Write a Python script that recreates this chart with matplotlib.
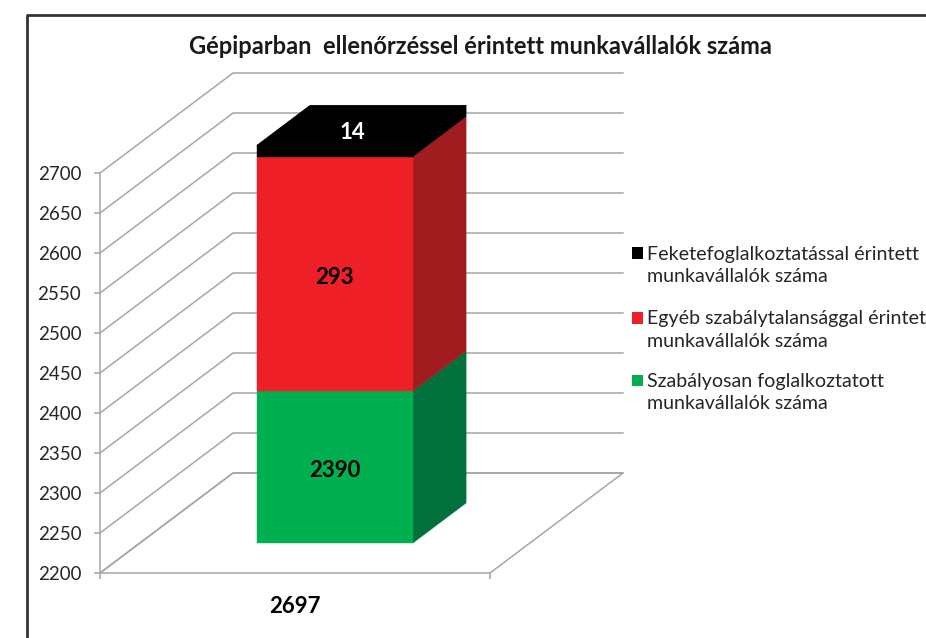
#!/usr/bin/env python3
"""Stacked oblique-3D column: workers affected by inspections in machine industry."""

import matplotlib
matplotlib.use("Agg")
import matplotlib.pyplot as plt
from matplotlib.lines import Line2D
from matplotlib.patches import Polygon, Rectangle

plt.rcParams["font.family"] = ["Lato", "DejaVu Sans"]

# --- data ---
title = "Gépiparban  ellenőrzéssel érintett munkavállalók száma"
category = "2697"
series_names = [
    "Szabályosan foglalkoztatott\nmunkavállalók száma",
    "Egyéb szabálytalansággal érintett\nmunkavállalók száma",
    "Feketefoglalkoztatással érintett\nmunkavállalók száma",
]
series_values = [2390, 293, 14]
y_ticks = [2200, 2250, 2300, 2350, 2400, 2450, 2500, 2550, 2600, 2650, 2700]

# --- style ---
W, H = 926, 638
front_colors = ["#00B050", "#EE1F26", "#000000"]
side_colors = ["#02703A", "#A01C1F", "#000000"]
label_colors = ["black", "black", "white"]
grid_color = "#A6A6A6"
text_color = "#262626"

# oblique projection: full floor depth shifts this much in data units
DEPTH_X = 133 / 390
DEPTH_Y = 100 / 0.8
BAR_LEFT, BAR_RIGHT = 0.3, 0.7
BAR_D0, BAR_D1 = 0.3, 0.7


def project(x, val, d):
    return x + d * DEPTH_X, val + d * DEPTH_Y


def fx(px):
    return px / W


def fy(py):
    return 1 - py / H


def main():
    fig = plt.figure(figsize=(W / 100, H / 100), dpi=100)
    ax = fig.add_axes([fx(100), fy(573), fx(390), 400 / H])
    ax.set_xlim(0, 1)
    ax.set_ylim(y_ticks[0], y_ticks[-1])
    ax.patch.set_visible(False)

    for s in ("top", "right"):
        ax.spines[s].set_visible(False)
    for s in ("left", "bottom"):
        ax.spines[s].set_color(grid_color)
        ax.spines[s].set_linewidth(1.1)

    ax.set_yticks(y_ticks)
    ax.set_xticks([0, 1])
    ax.set_xticklabels([])
    ax.set_xticks([0.5], [category], minor=True)
    ax.tick_params(axis="y", length=4.5, width=1.1, color=grid_color, pad=9,
                   labelsize=13.5, labelcolor=text_color)
    ax.tick_params(axis="x", which="major", length=4.5, width=1.1, color=grid_color)
    ax.tick_params(axis="x", which="minor", length=0, pad=16.5, labelsize=16)
    for lab in ax.get_xticklabels(minor=True):
        lab.set_fontweight("bold")
        lab.set_color("black")

    # wall gridlines
    for t in y_ticks:
        xs, ys = zip(project(0, t, 0), project(0, t, 1), project(1, t, 1))
        ax.plot(xs, ys, color=grid_color, lw=1.1, clip_on=False, zorder=1)

    # floor outline
    xs, ys = zip(project(0, y_ticks[0], 0), project(0, y_ticks[0], 1),
                 project(1, y_ticks[0], 1), project(1, y_ticks[0], 0))
    ax.plot(xs, ys, color=grid_color, lw=1.1, clip_on=False, zorder=1)

    # stacked column
    bottom = y_ticks[0]
    top = series_values[0]
    tops = [series_values[0]]
    for v in series_values[1:]:
        top += v
        tops.append(top)
    bottoms = [bottom] + tops[:-1]

    for b, t, fc, sc in zip(bottoms, tops, front_colors, side_colors):
        front = [project(BAR_LEFT, b, BAR_D0), project(BAR_RIGHT, b, BAR_D0),
                 project(BAR_RIGHT, t, BAR_D0), project(BAR_LEFT, t, BAR_D0)]
        side = [project(BAR_RIGHT, b, BAR_D0), project(BAR_RIGHT, b, BAR_D1),
                project(BAR_RIGHT, t, BAR_D1), project(BAR_RIGHT, t, BAR_D0)]
        ax.add_patch(Polygon(side, closed=True, fc=sc, ec=sc, lw=0.3, clip_on=False, zorder=3))
        ax.add_patch(Polygon(front, closed=True, fc=fc, ec=fc, lw=0.3, clip_on=False, zorder=3))

    cap = [project(BAR_LEFT, tops[-1], BAR_D0), project(BAR_RIGHT, tops[-1], BAR_D0),
           project(BAR_RIGHT, tops[-1], BAR_D1), project(BAR_LEFT, tops[-1], BAR_D1)]
    ax.add_patch(Polygon(cap, closed=True, fc=front_colors[-1], ec=front_colors[-1], lw=0.6,
                         clip_on=False, zorder=3))

    # value labels; the thin top segment's label sits on the cap
    for i, (b, t, v) in enumerate(zip(bottoms, tops, series_values)):
        if i == len(series_values) - 1:
            x, y = project(0.5, t, BAR_D0 + 0.13)
        else:
            x, y = project(0.5, (b + t) / 2 - 4, BAR_D0)
        ax.text(x, y, str(v), color=label_colors[i], fontsize=16, fontweight="bold",
                ha="center", va="center", zorder=4, clip_on=False)

    # title
    fig.text(fx(480), fy(47), title, fontsize=17, fontweight="bold", color="#1a1a1a",
             ha="center", va="center")

    # legend, top series first, marker level with the first line of each entry
    for name, color, py in zip(series_names[::-1], front_colors[::-1], [265.5, 330, 392.5]):
        fig.add_artist(Rectangle((fx(631.5), fy(py - 6.5)), 11.5 / W, 11.5 / H, fc=color, ec="none",
                                 transform=fig.transFigure))
        fig.text(fx(647), fy(py), name, fontsize=14.1, color=text_color, ha="left",
                 va="center", linespacing=1.42)

    # outer frame running off the top right and bottom left of the picture
    fig.add_artist(Line2D([fx(27), fx(27), fx(W)], [fy(H), fy(15), fy(15)],
                          color="#333333", lw=2, transform=fig.transFigure))

    fig.savefig("out.png", dpi=100)


if __name__ == "__main__":
    main()
